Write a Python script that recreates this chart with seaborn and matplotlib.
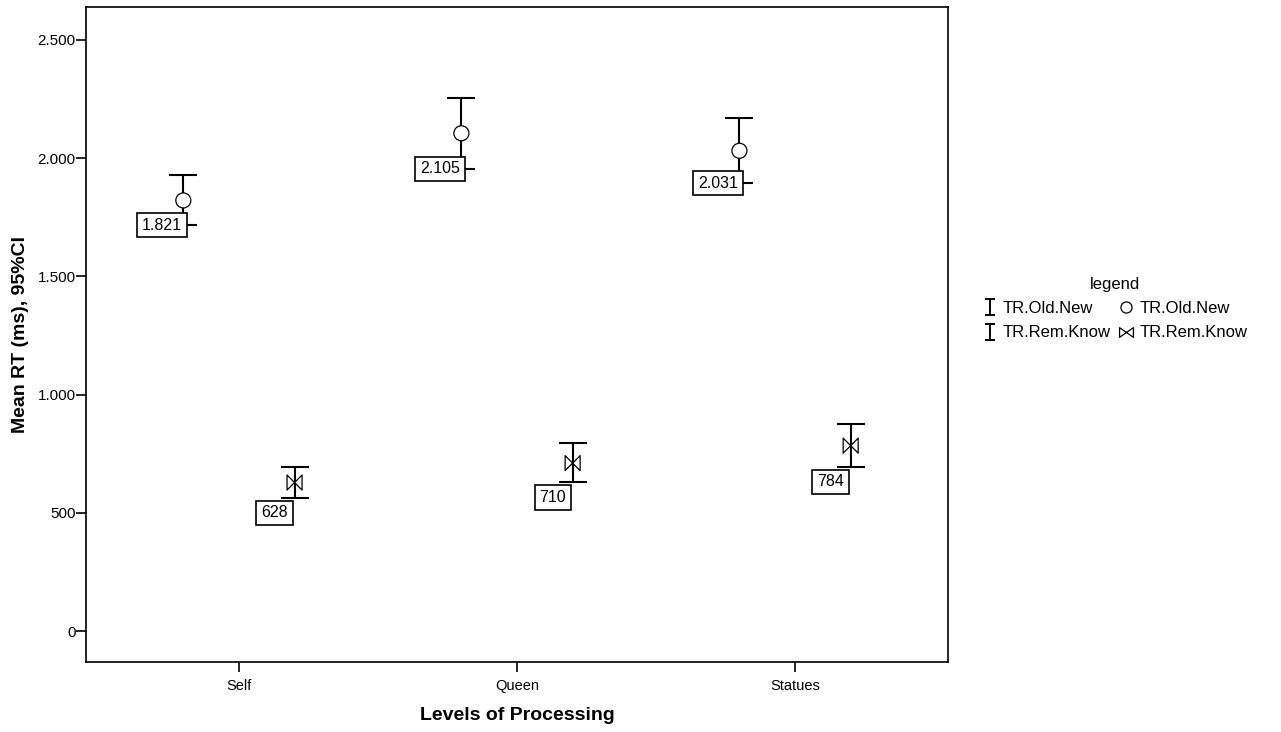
import matplotlib
matplotlib.use("Agg")
import matplotlib.pyplot as plt
from matplotlib.lines import Line2D
from matplotlib.path import Path
from matplotlib.ticker import FuncFormatter
import numpy as np
import pandas as pd
import seaborn as sns

# values (ms)
categories = ["Self", "Queen", "Statues"]
series_names = ["TR.Old.New", "TR.Rem.Know"]
old_new_mean = [1821, 2105, 2031]
old_new_lo = [1717, 1954, 1894]
old_new_hi = [1929, 2256, 2169]
rem_know_mean = [628, 710, 784]
rem_know_lo = [564, 629, 695]
rem_know_hi = [695, 794, 876]

y_ticks = [0, 500, 1000, 1500, 2000, 2500]


def dotted(v, pos=None):
    return f"{v:,.0f}".replace(",", ".")


sns.set_theme(style="ticks")
plt.rcParams["font.family"] = ["Liberation Sans", "DejaVu Sans"]
plt.rcParams.update({
    "text.color": "black", "axes.labelcolor": "black",
    "xtick.color": "black", "ytick.color": "black",
    "axes.edgecolor": "black",
})

# marker shapes: bow-tie for Rem.Know, I-beam for the CI legend entries
bowtie = Path(
    [(-1, 1), (-1, -1), (0, 0), (-1, 1), (1, 1), (1, -1), (0, 0), (1, 1)],
    [Path.MOVETO, Path.LINETO, Path.LINETO, Path.CLOSEPOLY,
     Path.MOVETO, Path.LINETO, Path.LINETO, Path.CLOSEPOLY],
)
bowtie_wide = Path(
    [(-1, 0.7), (-1, -0.7), (0, 0), (-1, 0.7), (1, 0.7), (1, -0.7), (0, 0), (1, 0.7)],
    bowtie.codes,
)
ibeam = Path(
    [(-0.6, 1), (0.6, 1), (0, 1), (0, -1), (-0.6, -1), (0.6, -1)],
    [Path.MOVETO, Path.LINETO, Path.MOVETO, Path.LINETO, Path.MOVETO, Path.LINETO],
)

offsets = {"TR.Old.New": -0.2, "TR.Rem.Know": 0.2}
rows = []
for name, means, los, his in [
    ("TR.Old.New", old_new_mean, old_new_lo, old_new_hi),
    ("TR.Rem.Know", rem_know_mean, rem_know_lo, rem_know_hi),
]:
    for i, cat in enumerate(categories):
        rows.append(dict(series=name, category=cat, pos=i + offsets[name],
                         mean=means[i], lo=los[i], hi=his[i]))
df = pd.DataFrame(rows)

fig = plt.figure(figsize=(12.81, 7.32), dpi=100)
ax = fig.add_axes([86 / 1281, 1 - 662 / 732, (948 - 86) / 1281, (662 - 7) / 732])

ax.errorbar(df["pos"], df["mean"],
            yerr=[df["mean"] - df["lo"], df["hi"] - df["mean"]],
            fmt="none", ecolor="black", elinewidth=1.5, capsize=10,
            capthick=1.5, zorder=2)

sns.scatterplot(data=df, x="pos", y="mean", style="series",
                markers={"TR.Old.New": "o", "TR.Rem.Know": bowtie},
                s=117, color="white", edgecolor="black", linewidth=0.9,
                legend=False, ax=ax, zorder=3)

# value labels in boxes next to the lower CI end
for _, r in df.iterrows():
    if r["series"] == "TR.Old.New":
        xytext, va = (-1, 0), "center"
    else:
        xytext, va = (-4.8, -5.5), "top"
    ax.annotate(dotted(r["mean"]), xy=(r["pos"], r["lo"]), xytext=xytext,
                textcoords="offset points", ha="right", va=va, fontsize=11.5,
                zorder=4,
                bbox=dict(boxstyle="square,pad=0.3", fc="white", ec="black", lw=1.2))

ax.set_xlim(-0.55, 2.55)
ax.set_ylim(-131, 2639)
ax.set_xticks(range(len(categories)), categories, fontsize=10.5)
ax.set_yticks(y_ticks)
ax.yaxis.set_major_formatter(FuncFormatter(dotted))
ax.tick_params(axis="y", length=7, width=1.2, pad=0.5, labelsize=11)
ax.tick_params(axis="x", length=7, width=1.2, pad=5)
for sp in ax.spines.values():
    sp.set_linewidth(1.2)
ax.set_xlabel("Levels of Processing", fontsize=14, fontweight="bold", labelpad=10)
ax.set_ylabel("Mean RT (ms), 95%CI", fontsize=14, fontweight="bold", labelpad=6)

handles = [
    Line2D([], [], ls="none", marker=ibeam, ms=12, mec="black", mfc="none", mew=1.4),
    Line2D([], [], ls="none", marker=ibeam, ms=12, mec="black", mfc="none", mew=1.4),
    Line2D([], [], ls="none", marker="o", ms=8, mec="black", mfc="white", mew=0.9),
    Line2D([], [], ls="none", marker=bowtie_wide, ms=10, mec="black", mfc="white", mew=0.9),
]
labels = [series_names[0], series_names[1], series_names[0], series_names[1]]
fig.legend(handles, labels, ncol=2, loc="upper left",
           bbox_to_anchor=(968 / 1281, 1 - 262 / 732), frameon=False,
           title="legend", fontsize=12, title_fontsize=12,
           handlelength=0.8, handletextpad=0.4, columnspacing=0.5,
           labelspacing=0.55)

fig.savefig("out.png", dpi=100, facecolor="white")
